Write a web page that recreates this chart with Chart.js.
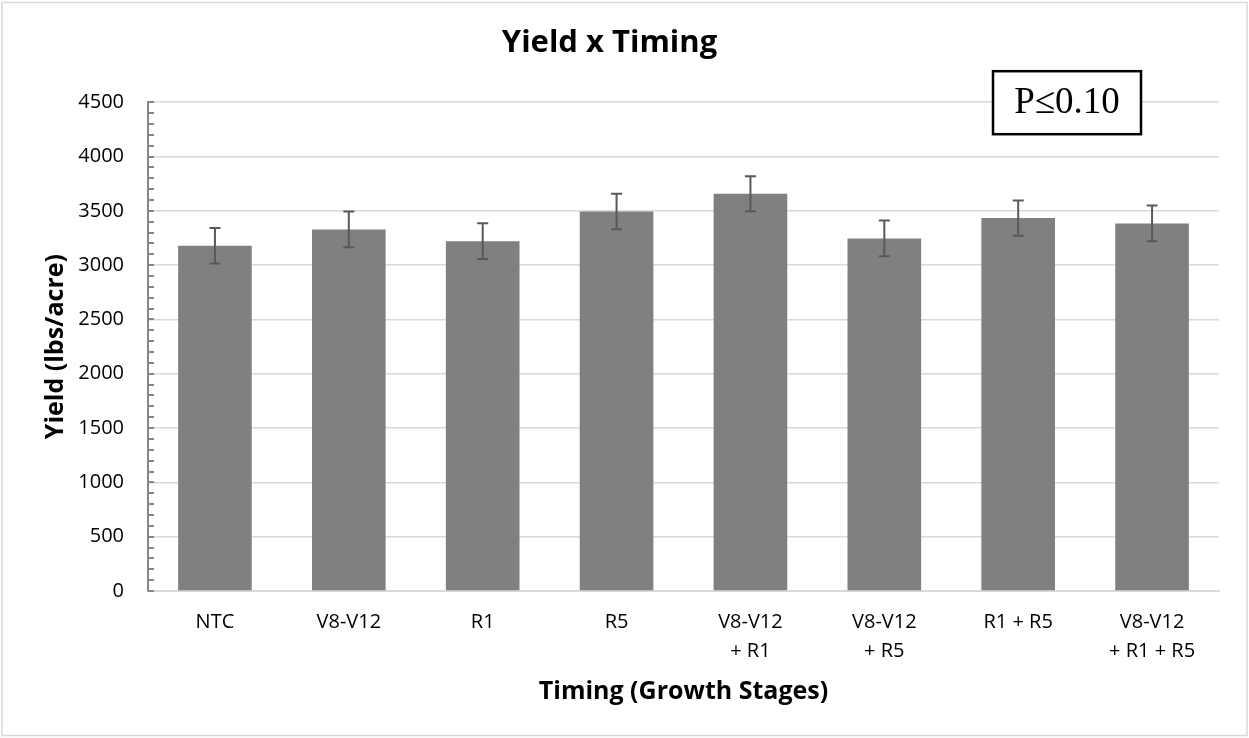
<!DOCTYPE html>
<html>
<head>
<meta charset="utf-8">
<script src="https://cdn.jsdelivr.net/npm/chart.js@4/dist/chart.umd.min.js"></script>
<style>
    html, body { margin: 0; padding: 0; background: #fff; }
    canvas { display: block; }
</style>
</head>
<body>
<canvas id="yieldChart" width="1249" height="738"></canvas>
<script>
const timings = [['NTC'], ['V8-V12'], ['R1'], ['R5'], ['V8-V12', '+ R1'], ['V8-V12', '+ R5'], ['R1 + R5'], ['V8-V12', '+ R1 + R5']];
const yieldLbs = [3178, 3329, 3221, 3494, 3657, 3246, 3433, 3384];
const yieldErr = [164, 165, 164, 164, 162, 164, 162, 165];
const yTicks = [0, 500, 1000, 1500, 2000, 2500, 3000, 3500, 4000, 4500];
const sigLabel = 'P\u22640.10';

const axisGray = '#868686';
const gridGray = '#d9d9d9';

// error whiskers on top of each bar
const errorBars = {
    id: 'errorBars',
    afterDatasetsDraw(chart) {
        const { ctx, scales: { y } } = chart;
        const meta = chart.getDatasetMeta(0);
        ctx.save();
        ctx.strokeStyle = '#595959';
        ctx.lineWidth = 2;
        meta.data.forEach((bar, i) => {
            const hi = y.getPixelForValue(yieldLbs[i] + yieldErr[i]);
            const lo = y.getPixelForValue(yieldLbs[i] - yieldErr[i]);
            ctx.beginPath();
            ctx.moveTo(bar.x, hi); ctx.lineTo(bar.x, lo);
            ctx.moveTo(bar.x - 5.5, hi); ctx.lineTo(bar.x + 5.5, hi);
            ctx.moveTo(bar.x - 5.5, lo); ctx.lineTo(bar.x + 5.5, lo);
            ctx.stroke();
        });
        ctx.restore();
    },
};

// minor tick marks every 100 on the value axis, plus the outer frame and P-value box
const decorations = {
    id: 'decorations',
    afterDraw(chart) {
        const { ctx, chartArea, scales: { y } } = chart;
        ctx.save();
        ctx.strokeStyle = axisGray;
        ctx.lineWidth = 2;
        ctx.beginPath();
        for (let v = 0; v <= 4500; v += 100) {
            const py = Math.round(y.getPixelForValue(v));
            ctx.moveTo(chartArea.left, py);
            ctx.lineTo(chartArea.left + 6, py);
        }
        ctx.stroke();

        ctx.strokeStyle = gridGray;
        ctx.lineWidth = 1.5;
        ctx.strokeRect(2, 2.5, chart.width - 4, chart.height - 5);

        const cy = y.getPixelForValue(4500);
        const bx = chartArea.right - 226, bw = 148, bh = 63;
        ctx.fillStyle = '#fff';
        ctx.fillRect(bx, cy - 31, bw, bh);
        ctx.strokeStyle = '#000';
        ctx.lineWidth = 2.5;
        ctx.strokeRect(bx, cy - 31, bw, bh);
        ctx.fillStyle = '#000';
        ctx.font = '37px "Liberation Serif", "Times New Roman", serif';
        ctx.textAlign = 'center';
        ctx.textBaseline = 'middle';
        ctx.fillText(sigLabel, bx + bw / 2, cy + 1);
        ctx.restore();
    },
};

Chart.defaults.font.family = '"Open Sans", sans-serif';
Chart.defaults.color = '#000';

new Chart(document.getElementById('yieldChart'), {
    type: 'bar',
    data: {
        labels: timings,
        datasets: [{
            label: 'Yield',
            data: yieldLbs,
            backgroundColor: '#808080',
            categoryPercentage: 1,
            barPercentage: 0.55,
        }],
    },
    options: {
        responsive: false,
        animation: false,
        layout: { padding: { left: 0, right: 30, top: 0, bottom: 0 } },
        plugins: {
            legend: { display: false },
            tooltip: { enabled: false },
            title: {
                display: true,
                text: 'Yield x Timing',
                color: '#000',
                font: { size: 31, weight: 'bold' },
                padding: { top: 25, bottom: 40 },
            },
        },
        scales: {
            x: {
                grid: { display: false, drawTicks: false },
                border: { color: gridGray, width: 2 },
                ticks: { font: { size: 20, lineHeight: 1.45 }, padding: 17, maxRotation: 0, autoSkip: false },
                title: {
                    display: true,
                    text: 'Timing (Growth Stages)',
                    font: { size: 25, weight: 'bold' },
                    padding: { top: 0, bottom: 31 },
                },
                afterFit(scale) { scale.height = 147; },
            },
            y: {
                min: 0,
                max: 4500,
                afterBuildTicks(scale) { scale.ticks = yTicks.map((value) => ({ value })); },
                grid: { color: gridGray, lineWidth: 1.5, drawTicks: false },
                border: { color: axisGray, width: 2 },
                ticks: { font: { size: 20 }, padding: 24, callback: (value) => String(value) },
                title: {
                    display: true,
                    text: 'Yield (lbs/acre)',
                    font: { size: 25, weight: 'bold' },
                    padding: { top: 41, bottom: 0 },
                },
                afterFit(scale) { scale.width = 148; },
            },
        },
    },
    plugins: [errorBars, decorations],
});
</script>
</body>
</html>
